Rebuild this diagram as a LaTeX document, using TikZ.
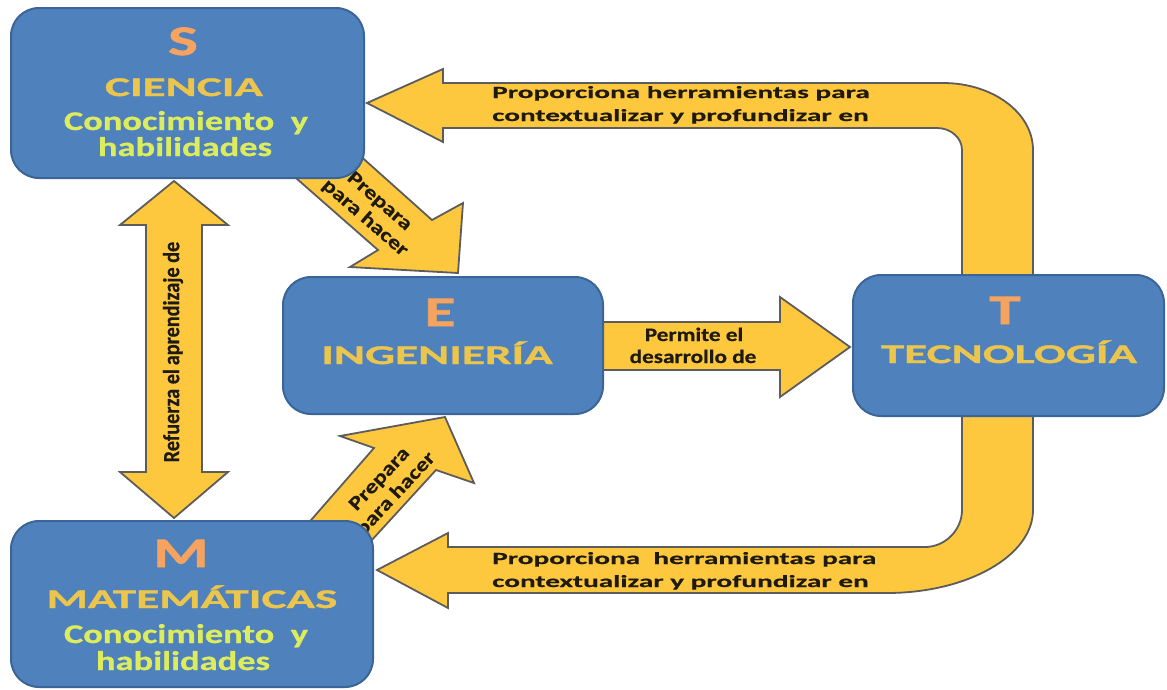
\documentclass[tikz,border=0pt]{standalone}
\usepackage{fontspec}
\setmainfont{Carlito}
% widened faces of Carlito for the different text groups
\newfontfamily\fLetter{Carlito}[FakeStretch=1.5, FakeBold=1.5]
\newfontfamily\fHead{Carlito}[FakeStretch=1.75, FakeBold=1.2]
\newfontfamily\fSub{Carlito}[FakeStretch=1.35, FakeBold=0.8]
\newfontfamily\fLong{Carlito}[FakeStretch=1.72, FakeBold=0.5]
\newfontfamily\fMid{Carlito}[FakeStretch=1.22, FakeBold=0.5]
\newfontfamily\fDiag{Carlito}[FakeStretch=1.25, FakeBold=0.5]
\newfontfamily\fPlain{Carlito}[FakeStretch=0.88, FakeBold=0.5]

\definecolor{boxblue}{HTML}{4F81BD}
\definecolor{boxedge}{HTML}{3A6596}
\definecolor{arrowfill}{HTML}{FDC83E}
\definecolor{arrowedge}{HTML}{5C5C5C}
\definecolor{lettercol}{HTML}{F5A35E}
\definecolor{titlecol}{HTML}{ECC64C}
\definecolor{subcol}{HTML}{DDEC5C}
\definecolor{labelcol}{HTML}{1E1A10}

\begin{document}
\begin{tikzpicture}[x=1pt,y=-1pt,
  blockarrow/.style={fill=arrowfill, draw=arrowedge, line width=1.8pt, line join=miter},
  stembox/.style={rounded corners=28pt, fill=boxblue, draw=boxedge, line width=2pt, inner sep=0pt},
  letter/.style={anchor=base, inner sep=0pt, text=lettercol, font=\fLetter\bfseries\fontsize{42}{42}\selectfont},
  heading/.style={anchor=base, inner sep=0pt, text=titlecol, font=\fHead\bfseries\fontsize{27}{27}\selectfont},
  subline/.style={anchor=base, inner sep=0pt, text=subcol, font=\fSub\bfseries\fontsize{27}{27}\selectfont},
  longlabel/.style={anchor=base west, inner sep=0pt, text=labelcol, font=\fLong\bfseries\fontsize{17}{17}\selectfont},
  midlabel/.style={anchor=base, inner sep=0pt, text=labelcol, font=\fMid\bfseries\fontsize{19}{19}\selectfont},
  diaglabel/.style={inner sep=0pt, align=center, text=labelcol, font=\fDiag\bfseries\fontsize{19.5}{22}\selectfont},
  vertlabel/.style={inner sep=0pt, text=labelcol, font=\fPlain\bfseries\fontsize{23}{23}\selectfont}
]
\useasboundingbox (0,0) rectangle (1167,689);

% ---------- block arrows (drawn first, boxes sit on top) ----------
% T -> S, over the top
\draw[blockarrow] (367,103) -- (443,69) -- (443,83) -- (943,83)
  .. controls (993,83) and (1033,113) .. (1033,150)
  -- (1033,300) -- (962,300) -- (962,150)
  .. controls (962,138) and (951,128) .. (937,128)
  -- (443,128) -- (443,142) -- cycle;
% T -> M, along the bottom
\draw[blockarrow] (377,570) -- (448,533) -- (448,547) -- (925,547)
  .. controls (945,547) and (962,530) .. (962,510)
  -- (962,395) -- (1033,395) -- (1033,510)
  .. controls (1033,556) and (967,593) .. (887,593)
  -- (448,593) -- (448,608) -- cycle;
% E -> T
\draw[blockarrow] (590,322) -- (780,322) -- (780,297) -- (850,347)
  -- (780,397) -- (780,370) -- (590,370) -- cycle;
% S <-> M
\draw[blockarrow] (174,181) -- (228,225) -- (202,225) -- (202,472)
  -- (228,472) -- (174,518) -- (120,472) -- (146,472) -- (146,225)
  -- (120,225) -- cycle;
% S -> E
\draw[blockarrow] (328,127) -- (432,220) -- (463,203) -- (458,273)
  -- (350,267) -- (378,250) -- (272,157) -- cycle;
% M -> E
\draw[blockarrow] (298,535) -- (374,448) -- (340,436) -- (445,417)
  -- (474,483) -- (436,470) -- (360,553) -- cycle;

% ---------- arrow labels ----------
\node[longlabel] (top1) at (492,98) {Proporciona herramientas para};
\node[longlabel] (top2) at (492,121) {contextualizar y profundizar en};
\node[longlabel] (bot1) at (492,564) {Proporciona\ \ herramientas para};
\node[longlabel] (bot2) at (492,587) {contextualizar y profundizar en};
\node[midlabel] (mid1) at (694,341) {Permite el};
\node[midlabel] (mid2) at (693,363) {desarrollo de};
\node[vertlabel, rotate=90] (vert) at (173,352) {Refuerza el\,aprendizaje de};
\node[diaglabel, rotate=-41] (dg1) at (372,210) {Prepara\\para hacer};
\node[diaglabel, rotate=47] (dg2) at (388,487) {Prepara\\para hacer};

% ---------- boxes ----------
\node[stembox, minimum width=353pt, minimum height=170pt] (S) at (187.5,93) {};
\node[stembox, minimum width=320pt, minimum height=137pt] (E) at (443,345.5) {};
\node[stembox, minimum width=311pt, minimum height=141pt] (T) at (1008.5,345.5) {};
\node[stembox, minimum width=362pt, minimum height=166pt] (M) at (192,604) {};

% ---------- box texts ----------
\node[letter] (Sl) at (183,55) {S};
\node[heading] (Sh) at (184,96) {CIENCIA};
\node[subline] (Ss1) at (186,130) {Conocimiento\ \ y};
\node[subline] (Ss2) at (185,156) {habilidades};

\node[letter] (El) at (440,326) {E};
\node[heading] (Eh) at (437,364) {INGENIERÍA};

\node[letter] (Tl) at (1005,324) {T};
\node[heading] (Th) at (1009,363) {TECNOLOGÍA};

\node[letter] (Ml) at (181,567) {M};
\node[heading] (Mh) at (192,608) {MATEMÁTICAS};
\node[subline] (Ms1) at (186,643) {Conocimiento\ \ y};
\node[subline] (Ms2) at (183,670) {habilidades};
\end{tikzpicture}
\end{document}
